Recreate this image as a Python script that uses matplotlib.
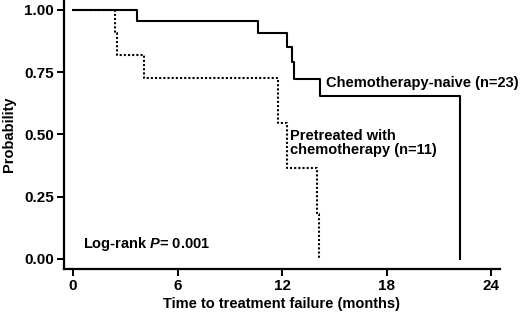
import matplotlib
matplotlib.use("Agg")
import matplotlib.pyplot as plt

plt.rcParams['font.family'] = 'Liberation Sans'
plt.rcParams['font.weight'] = 'bold'
plt.rcParams['axes.labelweight'] = 'bold'
plt.rcParams['font.size'] = 10.5
plt.rcParams['mathtext.fontset'] = 'custom'
plt.rcParams['mathtext.bfit'] = 'Liberation Sans:italic:bold'

# Kaplan-Meier step data (months, survival probability)
naive_t = [0, 3.7, 10.6, 12.3, 12.55, 12.7, 14.2, 22.2, 22.2]
naive_p = [1.0, 0.957, 0.909, 0.85, 0.79, 0.723, 0.655, 0.655, 0.0]
pre_t = [0, 2.4, 2.5, 4.1, 11.75, 12.3, 14.0, 14.1, 14.1]
pre_p = [1.0, 0.909, 0.818, 0.727, 0.545, 0.364, 0.18, 0.18, 0.0]

xticks = [0, 6, 12, 18, 24]
yticks = [0.0, 0.25, 0.50, 0.75, 1.00]

fig = plt.figure(figsize=(5.2, 3.13), dpi=100)
ax = fig.add_axes([0.123, 0.141, 0.838, 0.859])

ax.step(naive_t, naive_p, where='post', color='black', lw=1.5)
ax.step(pre_t, pre_p, where='post', color='black', lw=1.5, linestyle=(0, (1, 1)))

ax.set_xlim(-0.52, 24.5)
ax.set_ylim(-0.04, 1.04)
ax.set_xticks(xticks)
ax.set_yticks(yticks)
ax.set_yticklabels([f"{v:.2f}" for v in yticks])
for s in ['top', 'right']:
    ax.spines[s].set_visible(False)
for s in ['left', 'bottom']:
    ax.spines[s].set_linewidth(1.6)
ax.tick_params(direction='out', length=5, width=1.4, pad=2, labelsize=11)

ax.set_xlabel("Time to treatment failure (months)", labelpad=3)
ax.set_ylabel("Probability", labelpad=6)

ax.text(14.55, 0.705, "Chemotherapy-naive (n=23)", va='center', ha='left')
ax.text(12.45, 0.52, "Pretreated with\nchemotherapy (n=11)", va='top', ha='left',
        linespacing=1.0)
ax.text(0.6, 0.06, "Log-rank $\\mathbfit{P}$= 0.001", va='center', ha='left')

fig.savefig("out.png", dpi=100)
